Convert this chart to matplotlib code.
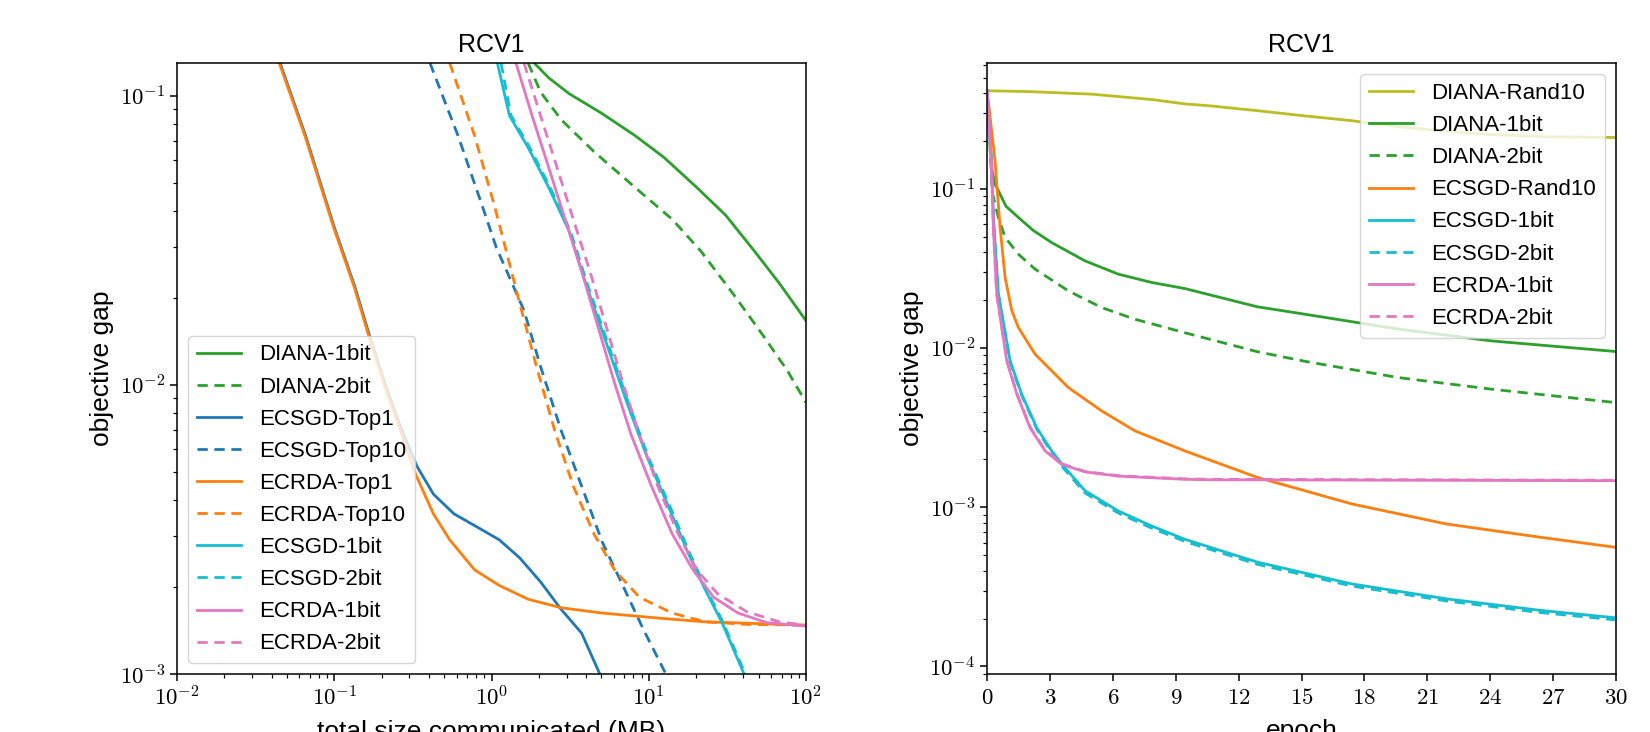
import numpy as np
import matplotlib
matplotlib.use("Agg")
import matplotlib.pyplot as plt
from matplotlib.ticker import FuncFormatter, NullFormatter

plt.rcParams["font.family"] = "Liberation Sans"
plt.rcParams["mathtext.fontset"] = "cm"
plt.rcParams["mathtext.default"] = "rm"
plt.rcParams["lines.dashed_pattern"] = [3.7, 2.4]

# ---- left panel: objective gap vs total size communicated (MB) ----
x_diana_1bit = [1.87, 2.31, 3.12, 5.06, 8.18, 12.5, 20.2, 30.9, 47.1, 67.6, 100]
y_diana_1bit = [0.1297, 0.1153, 0.1016, 0.0867, 0.0728, 0.0612, 0.0482, 0.0386, 0.029, 0.0225, 0.0167]
x_diana_2bit = [1.71, 2.05, 2.77, 4.48, 8.18, 14.1, 21.5, 34.8, 53.1, 76.3, 100]
y_diana_2bit = [0.1297, 0.103, 0.0827, 0.0641, 0.0482, 0.0374, 0.029, 0.0205, 0.0149, 0.0112, 0.0087]
x_ecsgd_top1 = [0.0452, 0.0657, 0.1, 0.1355, 0.167, 0.213, 0.263, 0.335, 0.427, 0.577, 0.828, 1.12, 1.51, 2.05, 2.77, 3.74, 4.9]
y_ecsgd_top1 = [0.1297, 0.0728, 0.0351, 0.0218, 0.0149, 0.00989, 0.00721, 0.00525, 0.0042, 0.00359, 0.00321, 0.00292, 0.00253, 0.00209, 0.00168, 0.00139, 0.001]
x_ecsgd_top10 = [0.406, 0.612, 0.879, 1.07, 1.61, 2.05, 2.77, 3.74, 5.06, 6.84, 9.25, 12.9]
y_ecsgd_top10 = [0.1297, 0.0728, 0.0412, 0.03, 0.0181, 0.0116, 0.00698, 0.00448, 0.00287, 0.00203, 0.00143, 0.001]
x_ecrda_top1 = [0.0447, 0.065, 0.099, 0.134, 0.165, 0.21, 0.258, 0.33, 0.427, 0.542, 0.78, 1.12, 1.71, 2.77, 5.06, 12.5, 22.9, 100]
y_ecrda_top1 = [0.1297, 0.0728, 0.0351, 0.0218, 0.0149, 0.00989, 0.00721, 0.0049, 0.00359, 0.00292, 0.0023, 0.00203, 0.00182, 0.0017, 0.00163, 0.00156, 0.00152, 0.00148]
x_ecrda_top10 = [0.542, 0.78, 1.05, 1.26, 1.51, 1.93, 2.52, 3.31, 4.48, 6.05, 8.7, 14.1, 22.9, 41.8, 100]
y_ecrda_top10 = [0.1297, 0.0728, 0.0412, 0.0281, 0.0192, 0.0116, 0.00698, 0.00448, 0.00306, 0.0023, 0.00185, 0.00163, 0.00152, 0.00149, 0.00148]
x_ecsgd_1bit = [1.09, 1.30, 1.71, 2.31, 3.12, 3.97, 5.37, 7.26, 9.82, 13.3, 17.9, 22.9, 29.1, 40.5]
y_ecsgd_1bit = [0.1297, 0.0854, 0.0662, 0.0482, 0.034, 0.0225, 0.014, 0.0087, 0.00559, 0.00382, 0.00261, 0.00196, 0.00152, 0.001]
x_ecsgd_2bit = [1.15, 1.33, 1.75, 2.36, 3.18, 4.05, 5.48, 7.42, 10.0, 13.6, 18.3, 23.3, 29.6, 41.2]
y_ecsgd_2bit = [0.1297, 0.0854, 0.0662, 0.0482, 0.034, 0.0225, 0.014, 0.0087, 0.00559, 0.00382, 0.00261, 0.00196, 0.00152, 0.001]
x_ecrda_1bit = [1.43, 1.81, 2.31, 2.94, 3.74, 4.76, 6.05, 7.71, 10.4, 14.1, 19.1, 25.8, 37, 56.5, 100]
y_ecrda_1bit = [0.1297, 0.0854, 0.0565, 0.0374, 0.0248, 0.0159, 0.0102, 0.00676, 0.00448, 0.00306, 0.0023, 0.00185, 0.00163, 0.00151, 0.00147]
x_ecrda_2bit = [1.61, 2.05, 2.61, 3.31, 4.22, 5.37, 6.84, 8.7, 11.4, 15.4, 20.2, 27.4, 41.8, 67.6, 100]
y_ecrda_2bit = [0.1297, 0.0854, 0.0565, 0.0374, 0.0248, 0.0159, 0.0102, 0.00676, 0.00448, 0.00306, 0.0023, 0.0019, 0.00165, 0.00152, 0.00148]

# ---- right panel: objective gap vs epoch ----
ep_diana_rand10 = [0, 2, 5, 7.9, 9.44, 10.6, 12.9, 15.1, 17.4, 19.6, 21.9, 24.1, 26.8, 30]
g_diana_rand10 = [0.415, 0.41, 0.395, 0.365, 0.343, 0.334, 0.311, 0.289, 0.269, 0.247, 0.231, 0.22, 0.213, 0.211]
ep_diana_1bit = [0, 0.24, 0.38, 0.54, 0.9, 1.49, 2.2, 3.08, 4.67, 6.26, 7.85, 9.44, 12.9, 15.1, 19.6, 24.1, 30]
g_diana_1bit = [0.415, 0.13, 0.107, 0.0976, 0.078, 0.0664, 0.055, 0.0461, 0.0354, 0.0292, 0.0259, 0.0237, 0.0182, 0.0164, 0.0132, 0.0111, 0.00953]
ep_diana_2bit = [0, 0.25, 0.54, 0.86, 1.49, 2.29, 3.88, 5.47, 7.06, 9.44, 12.9, 15.1, 19.6, 24.1, 30]
g_diana_2bit = [0.415, 0.095, 0.066, 0.0497, 0.039, 0.0314, 0.0229, 0.018, 0.0152, 0.0125, 0.0095, 0.0083, 0.00654, 0.00552, 0.00455]
ep_ecsgd_rand10 = [0, 0.38, 0.62, 0.86, 1.18, 1.49, 2.29, 3.88, 5.47, 7.06, 9.44, 12.9, 17.4, 21.9, 26.4, 30]
g_ecsgd_rand10 = [0.415, 0.15, 0.0574, 0.0278, 0.0172, 0.0135, 0.00917, 0.00565, 0.00403, 0.00302, 0.00226, 0.00154, 0.00105, 0.000786, 0.000648, 0.00056]
ep_ecsgd_1bit = [0, 0.2, 0.33, 0.54, 1.1, 1.65, 2.37, 3.08, 3.64, 4.67, 6.26, 7.85, 9.44, 12.9, 17.4, 21.9, 26.4, 30]
g_ecsgd_1bit = [0.415, 0.15, 0.057, 0.0219, 0.0083, 0.00514, 0.00316, 0.00226, 0.00182, 0.00127, 0.000948, 0.000763, 0.000629, 0.000452, 0.00033, 0.000266, 0.000225, 0.000202]
ep_ecsgd_2bit = [0, 0.2, 0.33, 0.54, 1.1, 1.65, 2.37, 3.08, 3.64, 4.67, 6.26, 7.85, 9.44, 12.9, 17.4, 21.9, 26.4, 30]
g_ecsgd_2bit = [0.415, 0.15, 0.057, 0.0219, 0.0082, 0.00505, 0.0031, 0.0022, 0.00176, 0.00123, 0.00092, 0.00074, 0.00061, 0.000438, 0.00032, 0.000258, 0.000218, 0.000196]
ep_ecrda_1bit = [0, 0.2, 0.3, 0.46, 0.94, 1.42, 2.05, 2.77, 3.56, 4.67, 6.26, 9.44, 10.6, 20, 30]
g_ecrda_1bit = [0.415, 0.15, 0.057, 0.0219, 0.0083, 0.00514, 0.00316, 0.00226, 0.00186, 0.00167, 0.00157, 0.0015, 0.00149, 0.00148, 0.00147]
ep_ecrda_2bit = [0, 0.2, 0.3, 0.46, 0.94, 1.42, 2.05, 2.77, 3.56, 4.67, 6.26, 9.44, 10.6, 20, 30]
g_ecrda_2bit = [0.415, 0.15, 0.057, 0.0219, 0.0084, 0.0052, 0.0032, 0.00228, 0.00188, 0.00168, 0.00158, 0.00151, 0.0015, 0.00149, 0.00148]

green, blue, orange = "#2ca02c", "#1f77b4", "#ff7f0e"
cyan, pink, olive = "#17becf", "#e377c2", "#bcbd22"

fig, (ax1, ax2) = plt.subplots(1, 2, figsize=(16.5, 7.32), dpi=100)
plt.subplots_adjust(left=0.1073, right=0.9794, bottom=0.0786, top=0.9139, wspace=0.288)

lw = 2.0
ax1.plot(x_diana_1bit, y_diana_1bit, color=green, lw=lw, label="DIANA-1bit")
ax1.plot(x_diana_2bit, y_diana_2bit, color=green, lw=lw, ls="--", label="DIANA-2bit")
ax1.plot(x_ecsgd_top1, y_ecsgd_top1, color=blue, lw=lw, label="ECSGD-Top1")
ax1.plot(x_ecsgd_top10, y_ecsgd_top10, color=blue, lw=lw, ls="--", label="ECSGD-Top10")
ax1.plot(x_ecrda_top1, y_ecrda_top1, color=orange, lw=lw, label="ECRDA-Top1")
ax1.plot(x_ecrda_top10, y_ecrda_top10, color=orange, lw=lw, ls="--", label="ECRDA-Top10")
ax1.plot(x_ecsgd_1bit, y_ecsgd_1bit, color=cyan, lw=lw, label="ECSGD-1bit")
ax1.plot(x_ecsgd_2bit, y_ecsgd_2bit, color=cyan, lw=lw, ls="--", label="ECSGD-2bit")
ax1.plot(x_ecrda_1bit, y_ecrda_1bit, color=pink, lw=lw, label="ECRDA-1bit")
ax1.plot(x_ecrda_2bit, y_ecrda_2bit, color=pink, lw=lw, ls="--", label="ECRDA-2bit")
ax1.set_xscale("log")
ax1.set_yscale("log")
ax1.set_xlim(1e-2, 1e2)
ax1.set_ylim(1e-3, 0.1297)
ax1.set_xlabel("total size communicated (MB)", fontsize=19, labelpad=7)

ax2.plot(ep_diana_rand10, g_diana_rand10, color=olive, lw=lw, label="DIANA-Rand10")
ax2.plot(ep_diana_1bit, g_diana_1bit, color=green, lw=lw, label="DIANA-1bit")
ax2.plot(ep_diana_2bit, g_diana_2bit, color=green, lw=lw, ls="--", label="DIANA-2bit")
ax2.plot(ep_ecsgd_rand10, g_ecsgd_rand10, color=orange, lw=lw, label="ECSGD-Rand10")
ax2.plot(ep_ecsgd_1bit, g_ecsgd_1bit, color=cyan, lw=lw, label="ECSGD-1bit")
ax2.plot(ep_ecsgd_2bit, g_ecsgd_2bit, color=cyan, lw=lw, ls="--", label="ECSGD-2bit")
ax2.plot(ep_ecrda_1bit, g_ecrda_1bit, color=pink, lw=lw, label="ECRDA-1bit")
ax2.plot(ep_ecrda_2bit, g_ecrda_2bit, color=pink, lw=lw, ls="--", label="ECRDA-2bit")
ax2.set_yscale("log")
ax2.set_xlim(0, 30)
ax2.set_ylim(8.9e-5, 0.62)
ax2.set_xticks(range(0, 31, 3))
ax2.xaxis.set_major_formatter(FuncFormatter(lambda v, p: "$%d$" % round(v)))
ax2.set_xlabel("epoch", fontsize=19, labelpad=7)

log_fmt = FuncFormatter(lambda v, p: r"$10^{%d}$" % round(np.log10(v)))
for ax in (ax1, ax2):
    ax.set_title("RCV1", fontsize=18, pad=8)
    ax.set_ylabel("objective gap", fontsize=19)
    ax.yaxis.set_major_formatter(log_fmt)
    ax.yaxis.set_minor_formatter(NullFormatter())
    ax.tick_params(which="major", labelsize=16.5, length=5, width=1.1)
    ax.tick_params(which="minor", length=2.9, width=0.85)
    for s in ax.spines.values():
        s.set_linewidth(1.1)
ax1.xaxis.set_major_formatter(log_fmt)
ax1.xaxis.set_minor_formatter(NullFormatter())

ax1.legend(loc="lower left", fontsize=16)
ax2.legend(loc="upper right", fontsize=16)

fig.savefig("out.png", dpi=100)
